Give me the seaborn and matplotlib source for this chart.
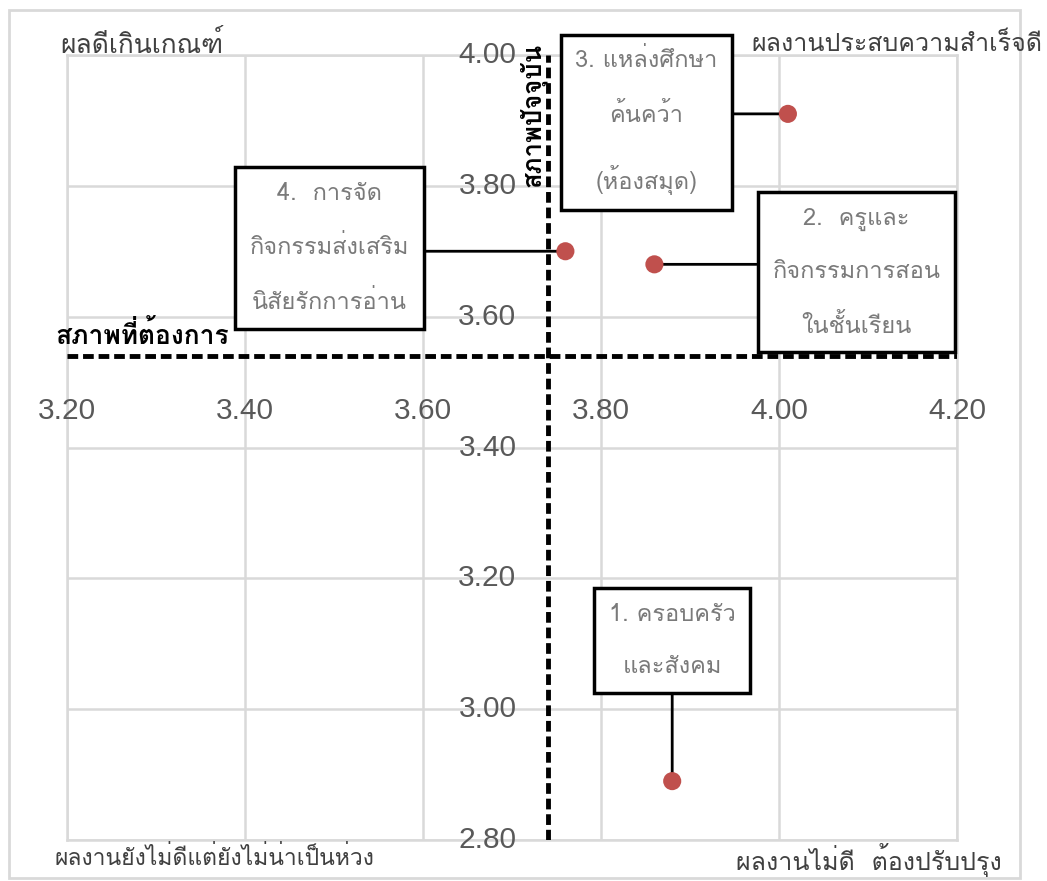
import matplotlib
matplotlib.use("Agg")
import matplotlib.pyplot as plt
import matplotlib.font_manager as fm
from matplotlib.patches import Rectangle
from matplotlib.text import Text
import seaborn as sns
import pandas as pd

# factors (current state vs desired state)
factors = ["1. ครอบครัว\nและสังคม",
           "2.  ครูและ\nกิจกรรมการสอน\nในชั้นเรียน",
           "3. แหล่งศึกษา\nค้นคว้า\n(ห้องสมุด)",
           "4.  การจัด\nกิจกรรมส่งเสริม\nนิสัยรักการอ่าน"]
x_values = [3.88, 3.86, 4.01, 3.76]
y_values = [2.89, 3.68, 3.91, 3.70]

x_ticks = [3.20, 3.40, 3.60, 3.80, 4.00, 4.20]
y_ticks = [2.80, 3.00, 3.20, 3.40, 3.60, 3.80, 4.00]

desired_level = 3.54   # horizontal dashed line
current_level = 3.74   # vertical dashed line

quadrant_labels = ["ผลดีเกินเกณฑ์", "ผลงานประสบความสำเร็จดี",
                   "ผลงานยังไม่ดีแต่ยังไม่น่าเป็นห่วง", "ผลงานไม่ดี  ต้องปรับปรุง"]
desired_label = "สภาพที่ต้องการ"
current_label = "สภาพปัจจุบัน"

df = pd.DataFrame({'factor': factors, 'x': x_values, 'y': y_values})

# pick a Thai font that is installed
installed = {f.name for f in fm.fontManager.ttflist}
thai_font = next((f for f in ['Loma', 'Noto Sans Thai Looped', 'Noto Sans Thai']
                  if f in installed), 'DejaVu Sans')

sns.set_style("whitegrid")
plt.rcParams['font.family'] = [thai_font, 'DejaVu Sans']

fig = plt.figure(figsize=(10.47, 8.81), dpi=100)
ax = fig.add_axes([67 / 1047, 1 - 840 / 881, 890 / 1047, 785 / 881])

ax.set_xlim(3.2, 4.2)
ax.set_ylim(2.8, 4.0)
ax.set_xticks(x_ticks)
ax.set_yticks(y_ticks)
ax.tick_params(labelbottom=False, labelleft=False, length=0)
ax.grid(color='#d9d9d9', linewidth=1.8)
for s in ax.spines.values():
    s.set_color('#d9d9d9')
    s.set_linewidth(1.8)

# reference lines
ax.axvline(current_level, color='black', lw=3.5, ls=(0, (2.2, 1.0)), zorder=3)
ax.axhline(desired_level, color='black', lw=3.5, ls=(0, (2.2, 1.0)), zorder=3)

# tick labels drawn near the crossing axes
for v in x_ticks:
    ax.text(v, 3.456, f"{v:.2f}", ha='center', va='center', fontsize=21.5,
            color='#595959', family='Liberation Sans')
for v in y_ticks:
    ax.text(3.705, v, f"{v:.2f}", ha='right', va='center', fontsize=21.5,
            color='#595959', family='Liberation Sans')

sns.scatterplot(data=df, x='x', y='y', color='#c0504d', s=170,
                edgecolor='none', zorder=6, ax=ax)
ax.set_xlabel("")
ax.set_ylabel("")

# label boxes: text position and which side the leader line leaves from
label_pos = [(3.88, 3.105), (4.087, 3.667), (3.851, 3.898), (3.495, 3.705)]
line_side = [(0.5, 0.0), (0.0, None), (1.0, None), (1.0, None)]
notes = []
for i, row in df.iterrows():
    rx, ry = line_side[i]
    a = ax.annotate(row['factor'], xy=(row['x'], row['y']), xytext=label_pos[i],
                    ha='center', va='center', fontsize=17, color='#7a7a7a',
                    linespacing=2.6, zorder=5,
                    bbox=dict(boxstyle='square,pad=0.62', fc='white', ec='black', lw=2.5),
                    arrowprops=dict(arrowstyle='-', color='black', lw=2,
                                    shrinkA=0, shrinkB=0,
                                    relpos=(rx, 0.5 if ry is None else ry)))
    notes.append((a, ry))

# quadrant captions
fig.text(60 / 1047, 1 - 44 / 881, quadrant_labels[0], ha='left', va='center',
         fontsize=19, color='#404040')
fig.text(1042 / 1047, 1 - 44 / 881, quadrant_labels[1], ha='right', va='center',
         fontsize=18, color='#404040')
fig.text(55 / 1047, 1 - 858 / 881, quadrant_labels[2], ha='left', va='center',
         fontsize=16.5, color='#404040')
fig.text(1002 / 1047, 1 - 860 / 881, quadrant_labels[3], ha='right', va='center',
         fontsize=18, color='#404040')

fig.text(55 / 1047, 1 - 335 / 881, desired_label, ha='left', va='center',
         fontsize=19, fontweight='bold', color='black')
fig.text(533 / 1047, 1 - 115 / 881, current_label, ha='center', va='center',
         rotation=90, fontsize=18.5, fontweight='bold', color='black')

# outer frame
fig.patches.append(Rectangle((9 / 1047, 1 - 878 / 881), 1011 / 1047, 868 / 881,
                             transform=fig.transFigure, fill=False,
                             ec='#d9d9d9', lw=2))

# keep side leader lines horizontal: attach them at the point's height
# (relpos is measured on the text extent, the box patch then clips the line)
fig.canvas.draw()
r = fig.canvas.get_renderer()
for a, ry in notes:
    if ry is None:
        bb = Text.get_window_extent(a, r)
        py = ax.transData.transform(a.xy)[1]
        a._arrow_relpos = (a._arrow_relpos[0], (py - bb.y0) / bb.height)

plt.savefig("out.png", dpi=100)
